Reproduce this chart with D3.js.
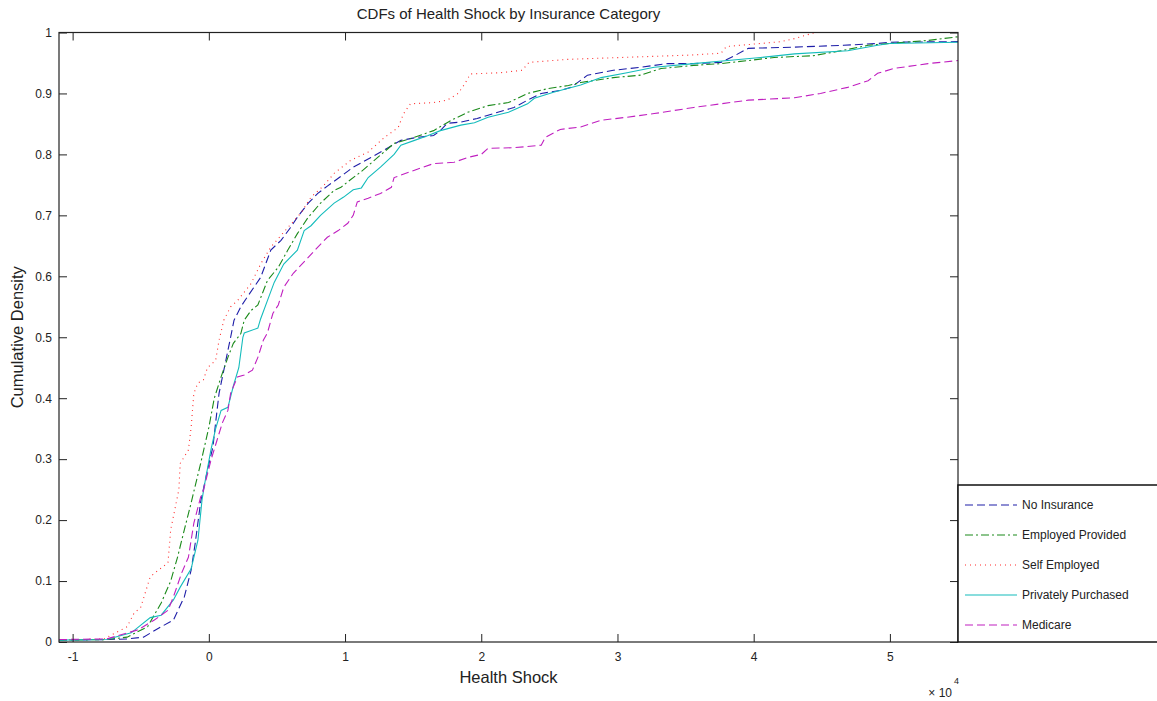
<!DOCTYPE html>
<html>
<head>
<meta charset="utf-8">
<script src="https://cdn.jsdelivr.net/npm/d3@7"></script>
<style>
  body { margin: 0; background: #fff; }
  svg { display: block; font-family: "Liberation Sans", Arial, sans-serif; }
  .axis text { font-size: 12px; fill: #222; }
  .axis line { stroke: #222; }
</style>
</head>
<body>
<svg class="chart"></svg>
<script>
// CDF points: [health shock (x10^4), cumulative density]
var noInsurance = [
  [-1.1, 0.003], [-0.75, 0.004], [-0.6, 0.005], [-0.48, 0.008], [-0.35, 0.025],
  [-0.26, 0.036], [-0.18, 0.074], [-0.13, 0.118], [-0.1, 0.162], [-0.06, 0.23],
  [-0.01, 0.282], [0.03, 0.32], [0.05, 0.36], [0.075, 0.408], [0.1, 0.435],
  [0.125, 0.462], [0.16, 0.5], [0.185, 0.528], [0.235, 0.55], [0.27, 0.562],
  [0.38, 0.598], [0.455, 0.643], [0.53, 0.659], [0.6, 0.68], [0.65, 0.697],
  [0.73, 0.72], [0.8, 0.736], [0.87, 0.748], [0.97, 0.764], [1.06, 0.779],
  [1.19, 0.795], [1.31, 0.81], [1.41, 0.823], [1.53, 0.828], [1.65, 0.831],
  [1.7, 0.839], [1.75, 0.851], [1.85, 0.853], [1.97, 0.859], [2.09, 0.867],
  [2.24, 0.877], [2.34, 0.889], [2.44, 0.9], [2.58, 0.905], [2.66, 0.91],
  [2.78, 0.93], [2.97, 0.938], [3.17, 0.943], [3.37, 0.949], [3.56, 0.949],
  [3.76, 0.951], [3.86, 0.962], [3.96, 0.974], [4.3, 0.976], [4.66, 0.979],
  [4.91, 0.982], [5.0, 0.984], [5.5, 0.985]
];
var employedProvided = [
  [-1.1, 0.003], [-0.75, 0.004], [-0.6, 0.008], [-0.45, 0.025], [-0.35, 0.064],
  [-0.28, 0.1], [-0.23, 0.139], [-0.18, 0.184], [-0.13, 0.228], [-0.11, 0.247],
  [-0.06, 0.293], [0.0, 0.352], [0.04, 0.4], [0.09, 0.435], [0.14, 0.467],
  [0.18, 0.49], [0.235, 0.506], [0.26, 0.528], [0.31, 0.544], [0.36, 0.553],
  [0.43, 0.593], [0.51, 0.615], [0.58, 0.643], [0.65, 0.67], [0.73, 0.697],
  [0.82, 0.72], [0.92, 0.741], [0.97, 0.746], [1.02, 0.755], [1.12, 0.772],
  [1.24, 0.795], [1.36, 0.818], [1.51, 0.828], [1.65, 0.839], [1.78, 0.856],
  [1.9, 0.869], [2.05, 0.88], [2.2, 0.885], [2.34, 0.9], [2.49, 0.908],
  [2.64, 0.913], [2.73, 0.918], [2.97, 0.926], [3.17, 0.93], [3.32, 0.941],
  [3.56, 0.946], [3.76, 0.949], [3.96, 0.954], [4.15, 0.959], [4.44, 0.962],
  [4.64, 0.97], [4.84, 0.979], [5.0, 0.982], [5.28, 0.987], [5.5, 0.993]
];
var selfEmployed = [
  [-1.1, 0.003], [-0.77, 0.005], [-0.6, 0.025], [-0.55, 0.047], [-0.5, 0.057],
  [-0.43, 0.107], [-0.37, 0.118], [-0.3, 0.13], [-0.28, 0.184], [-0.24, 0.228],
  [-0.22, 0.25], [-0.21, 0.293], [-0.15, 0.315], [-0.13, 0.352], [-0.11, 0.408],
  [-0.08, 0.425], [-0.04, 0.43], [-0.01, 0.45], [0.05, 0.462], [0.075, 0.495],
  [0.11, 0.528], [0.16, 0.55], [0.21, 0.56], [0.31, 0.588], [0.38, 0.62],
  [0.455, 0.648], [0.58, 0.68], [0.68, 0.705], [0.75, 0.73], [0.84, 0.748],
  [0.92, 0.769], [1.04, 0.79], [1.17, 0.804], [1.29, 0.828], [1.39, 0.844],
  [1.43, 0.867], [1.48, 0.883], [1.65, 0.885], [1.75, 0.889], [1.83, 0.9],
  [1.88, 0.916], [1.92, 0.932], [2.14, 0.934], [2.3, 0.938], [2.35, 0.951],
  [2.64, 0.956], [3.54, 0.963], [3.76, 0.966], [3.8, 0.977], [4.2, 0.985],
  [4.3, 0.99], [4.45, 1.0], [5.5, 1.0]
];
var privatelyPurchased = [
  [-1.1, 0.003], [-0.75, 0.004], [-0.57, 0.015], [-0.43, 0.04], [-0.35, 0.044],
  [-0.26, 0.069], [-0.21, 0.09], [-0.13, 0.12], [-0.08, 0.167], [-0.05, 0.233],
  [-0.035, 0.254], [0.015, 0.315], [0.05, 0.35], [0.09, 0.38], [0.14, 0.385],
  [0.18, 0.42], [0.22, 0.45], [0.25, 0.5], [0.26, 0.507], [0.36, 0.515],
  [0.38, 0.53], [0.43, 0.56], [0.48, 0.59], [0.55, 0.62], [0.65, 0.643],
  [0.7, 0.675], [0.75, 0.683], [0.82, 0.7], [0.92, 0.72], [0.99, 0.73],
  [1.06, 0.742], [1.12, 0.745], [1.17, 0.762], [1.26, 0.779], [1.36, 0.8],
  [1.41, 0.815], [1.51, 0.823], [1.61, 0.831], [1.7, 0.839], [1.85, 0.848],
  [1.95, 0.852], [2.05, 0.861], [2.2, 0.869], [2.34, 0.883], [2.39, 0.892],
  [2.53, 0.902], [2.73, 0.914], [2.88, 0.926], [3.07, 0.934], [3.27, 0.943],
  [3.56, 0.949], [3.81, 0.954], [4.05, 0.959], [4.3, 0.965], [4.69, 0.97],
  [4.91, 0.979], [5.0, 0.982], [5.5, 0.984]
];
var medicare = [
  [-1.1, 0.004], [-0.75, 0.005], [-0.52, 0.02], [-0.4, 0.036], [-0.3, 0.052],
  [-0.26, 0.074], [-0.2, 0.113], [-0.15, 0.139], [-0.11, 0.195], [-0.06, 0.238],
  [-0.045, 0.244], [0.015, 0.298], [0.06, 0.331], [0.1, 0.36], [0.14, 0.38],
  [0.16, 0.408], [0.21, 0.435], [0.26, 0.438], [0.32, 0.446], [0.36, 0.467],
  [0.4, 0.495], [0.43, 0.507], [0.47, 0.539], [0.51, 0.553], [0.55, 0.582],
  [0.62, 0.605], [0.73, 0.631], [0.8, 0.648], [0.87, 0.664], [0.95, 0.675],
  [1.02, 0.687], [1.06, 0.7], [1.09, 0.722], [1.17, 0.728], [1.26, 0.736],
  [1.34, 0.746], [1.36, 0.762], [1.51, 0.774], [1.65, 0.785], [1.8, 0.787],
  [1.9, 0.795], [2.0, 0.8], [2.05, 0.81], [2.24, 0.811], [2.44, 0.815],
  [2.47, 0.828], [2.58, 0.841], [2.73, 0.845], [2.88, 0.856], [3.07, 0.861],
  [3.27, 0.867], [3.56, 0.877], [3.76, 0.883], [3.96, 0.889], [4.3, 0.893],
  [4.49, 0.9], [4.69, 0.91], [4.84, 0.921], [4.91, 0.933], [5.03, 0.941],
  [5.28, 0.949], [5.5, 0.954]
];

var seriesNames = ['No Insurance', 'Employed Provided', 'Self Employed',
                   'Privately Purchased', 'Medicare'];
var seriesData = [noInsurance, employedProvided, selfEmployed,
                  privatelyPurchased, medicare];
var xTicks = [-1, 0, 1, 2, 3, 4, 5];
var yTicks = [0, 0.1, 0.2, 0.3, 0.4, 0.5, 0.6, 0.7, 0.8, 0.9, 1];

var seriesStyle = [
  {color: '#1e1ea8', dash: '8,4'},
  {color: '#1a8a1a', dash: '8,3,2,3'},
  {color: '#ff2a2a', dash: '1,4'},
  {color: '#14bcbc', dash: null},
  {color: '#c020c0', dash: '8,4'},
];

var chartWidth = 1157;
var chartHeight = 701;
var plotLeft = 59, plotRight = 958, plotTop = 32.5, plotBottom = 642;

var chart = d3.select('.chart').attr('width', chartWidth).attr('height', chartHeight);

var x = d3.scaleLinear().domain([-1.1, 5.5]).range([plotLeft, plotRight]);
var y = d3.scaleLinear().domain([0, 1]).range([plotBottom, plotTop]);

chart.append('defs').append('clipPath').attr('id', 'plotClip')
    .append('rect')
    .attr('x', plotLeft).attr('y', plotTop)
    .attr('width', plotRight - plotLeft).attr('height', plotBottom - plotTop);

var line = d3.line().x(d => x(d[0])).y(d => y(d[1]));

chart.append('g').attr('clip-path', 'url(#plotClip)')
    .selectAll('path.cdf')
    .data(seriesData)
    .join('path')
    .attr('class', 'cdf')
    .attr('d', line)
    .attr('fill', 'none')
    .attr('stroke', (d, i) => seriesStyle[i].color)
    .attr('stroke-width', 1.1)
    .attr('stroke-dasharray', (d, i) => seriesStyle[i].dash);

// Axes: MATLAB style box with ticks pointing inward on all four sides.
var fmtX = d => String(d);
var fmtY = d3.format('.1~f');

chart.append('g').attr('class', 'axis')
    .attr('transform', 'translate(0,' + plotBottom + ')')
    .call(d3.axisBottom(x).tickValues(xTicks).tickFormat(fmtX)
        .tickSizeInner(-8).tickSizeOuter(0).tickPadding(10));
chart.append('g').attr('class', 'axis')
    .attr('transform', 'translate(0,' + plotTop + ')')
    .call(d3.axisTop(x).tickValues(xTicks).tickFormat('')
        .tickSizeInner(-8).tickSizeOuter(0));
chart.append('g').attr('class', 'axis')
    .attr('transform', 'translate(' + plotLeft + ',0)')
    .call(d3.axisLeft(y).tickValues(yTicks).tickFormat(fmtY)
        .tickSizeInner(-8).tickSizeOuter(0).tickPadding(7));
chart.append('g').attr('class', 'axis')
    .attr('transform', 'translate(' + plotRight + ',0)')
    .call(d3.axisRight(y).tickValues(yTicks).tickFormat('')
        .tickSizeInner(-8).tickSizeOuter(0));
chart.selectAll('.axis .domain').remove();

chart.append('rect')
    .attr('x', plotLeft).attr('y', plotTop)
    .attr('width', plotRight - plotLeft).attr('height', plotBottom - plotTop)
    .attr('fill', 'none').attr('stroke', '#222').attr('stroke-width', 1.2);

// Title and labels
chart.append('text')
    .attr('x', (plotLeft + plotRight) / 2).attr('y', 19)
    .attr('text-anchor', 'middle').style('font-size', '15px').attr('fill', '#222')
    .text('CDFs of Health Shock by Insurance Category');
chart.append('text')
    .attr('x', (plotLeft + plotRight) / 2).attr('y', 683)
    .attr('text-anchor', 'middle').style('font-size', '16.5px').attr('fill', '#222')
    .text('Health Shock');
chart.append('text')
    .attr('transform', 'translate(23,' + (plotTop + plotBottom) / 2 + ') rotate(-90)')
    .attr('text-anchor', 'middle').style('font-size', '16.5px').attr('fill', '#222')
    .text('Cumulative Density');

chart.append('text').attr('x', 952).attr('y', 697)
    .attr('text-anchor', 'end').style('font-size', '12px').attr('fill', '#222')
    .text('\u00d7 10');
chart.append('text').attr('x', 954).attr('y', 684)
    .style('font-size', '9px').attr('fill', '#222').text('4');

// Legend box sits against the right edge of the axes.
var legend = chart.append('g').attr('class', 'legend');
legend.append('rect')
    .attr('x', plotRight).attr('y', 485)
    .attr('width', 220).attr('height', plotBottom - 485)
    .attr('fill', '#fff').attr('stroke', '#111').attr('stroke-width', 1.5);

var legendY = d3.scalePoint().domain(seriesNames).range([505, 625]);

var items = legend.selectAll('g.item')
    .data(seriesNames)
    .join('g')
    .attr('class', 'item')
    .attr('transform', d => 'translate(0,' + legendY(d) + ')');
items.append('line')
    .attr('x1', 965).attr('x2', 1017)
    .attr('stroke', (d, i) => seriesStyle[i].color)
    .attr('stroke-width', 1.1)
    .attr('stroke-dasharray', (d, i) => seriesStyle[i].dash);
items.append('text')
    .attr('x', 1022).attr('dy', '0.35em')
    .style('font-size', '12px').attr('fill', '#222')
    .text(d => d);
</script>
</body>
</html>
